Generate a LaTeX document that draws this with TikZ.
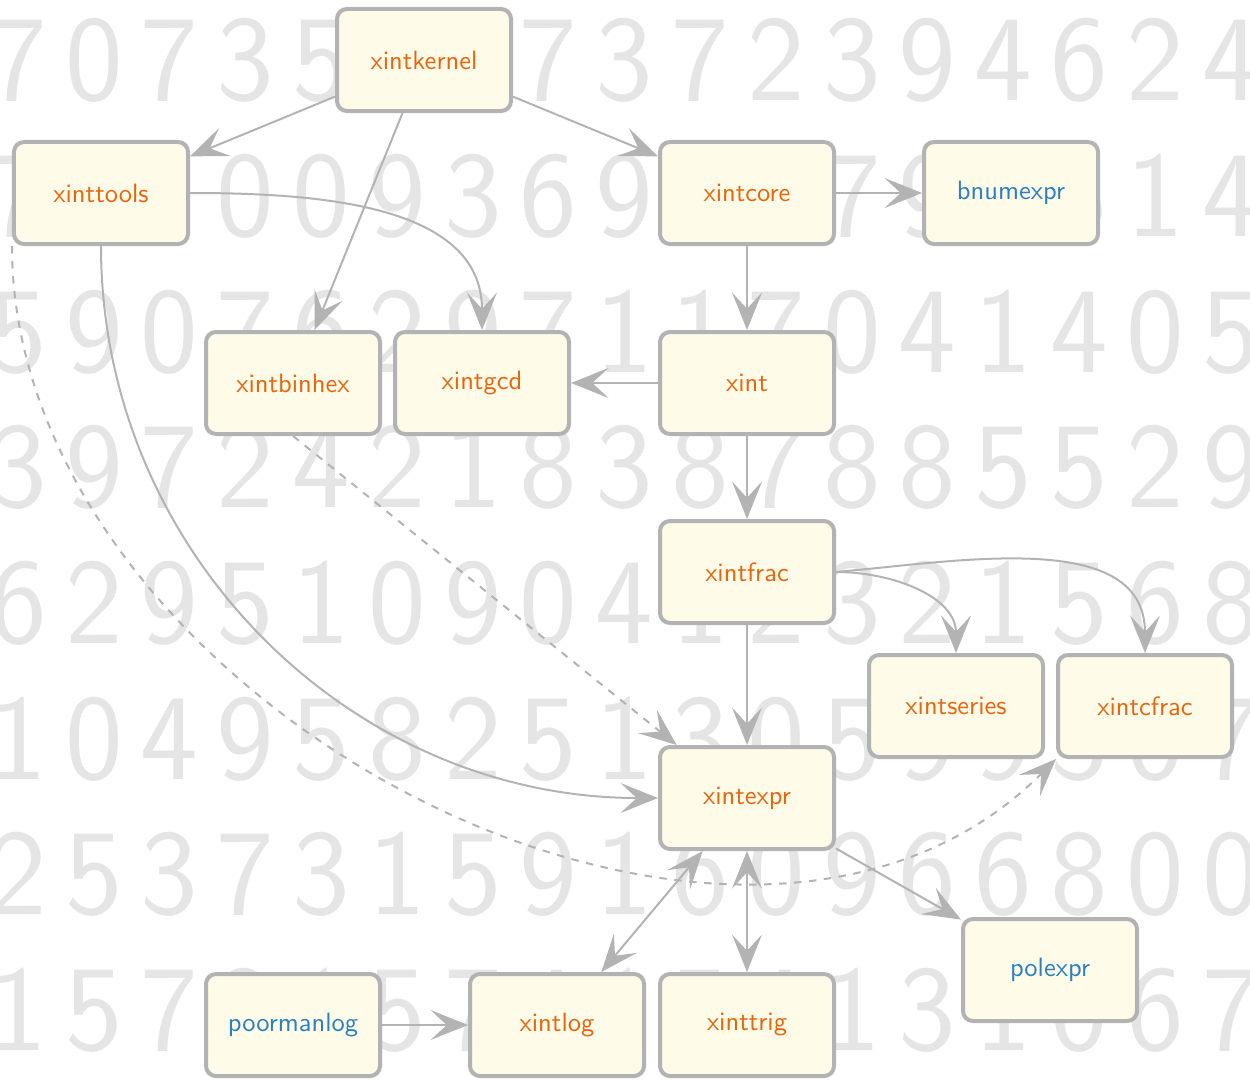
\documentclass[tikz,border=0pt]{standalone}
\usepackage{fontspec}
\usetikzlibrary{arrows.meta}
\definecolor{pkgfill}{RGB}{255,251,233}
\definecolor{pkgline}{RGB}{179,179,179}
\definecolor{pkgorange}{RGB}{232,101,12}
\definecolor{pkgblue}{RGB}{42,128,192}
\definecolor{digitgray}{RGB}{229,229,229}

\begin{document}
\begin{tikzpicture}[
    x=0.4pt, y=0.4pt,
    >={Stealth[length=15pt,width=12pt,inset=6.5pt]},
    pkg/.style={draw=pkgline,line width=1.6pt,fill=pkgfill,rounded corners=4pt,
      minimum width=69.6pt,minimum height=40.8pt,inner sep=0pt,
      font=\sffamily\fontsize{10.6}{12}\selectfont,text=pkgorange},
    ext/.style={pkg,text=pkgblue},
    dep/.style={->,line width=0.8pt,pkgline},
    both/.style={<->,line width=0.8pt,pkgline},
    digit/.style={anchor=base,inner sep=0pt,text=digitgray,
      font=\sffamily\fontsize{49}{50}\selectfont},
  ]
  \clip (0,0) rectangle (1250,-1079);

  % background digits
  \foreach \row [count=\r] in {
      {7,0,7,3,5,1,8,7,3,7,2,3,9,4,6,2,4},
      {7,4,1,0,0,9,3,6,9,4,1,7,9,8,5,1,4},
      {5,9,0,7,6,2,9,7,1,1,7,0,4,1,4,0,5},
      {3,9,7,2,4,2,1,8,3,8,7,8,8,5,5,2,9},
      {6,2,9,5,1,0,9,0,4,1,2,3,2,1,5,6,8},
      {1,0,4,9,5,8,2,5,1,3,0,5,9,9,3,0,7},
      {2,5,3,7,3,1,5,9,1,6,0,9,6,6,8,0,0},
      {1,5,7,2,1,5,7,4,1,5,4,1,3,1,0,6,7}} {
    \foreach \d [count=\k from 0] in \row {
      \node[digit] (d\r-\k) at ({18+75.8*\k},{-101-135.6*(\r-1)}) {\d};
    }
  }

  \node[pkg] (kernel) at (424,-60)   {xintkernel};
  \node[pkg] (tools)  at (101,-193)  {xinttools};
  \node[pkg] (core)   at (747,-193)  {xintcore};
  \node[ext] (bnum)   at (1011,-193) {bnumexpr};
  \node[pkg] (binhex) at (293,-383)  {xintbinhex};
  \node[pkg] (gcd)    at (482,-383)  {xintgcd};
  \node[pkg] (xint)   at (747,-383)  {xint};
  \node[pkg] (frac)   at (747,-572)  {xintfrac};
  \node[pkg] (series) at (956,-706)  {xintseries};
  \node[pkg] (cfrac)  at (1145,-706) {xintcfrac};
  \node[pkg] (expr)   at (747,-798)  {xintexpr};
  \node[ext] (pol)    at (1050,-970) {polexpr};
  \node[ext] (poor)   at (293,-1025) {poormanlog};
  \node[pkg] (log)    at (557,-1025) {xintlog};
  \node[pkg] (trig)   at (747,-1025) {xinttrig};

  \draw[dep] (kernel) -- (tools);
  \draw[dep] (kernel) -- (core);
  \draw[dep] (kernel) -- (binhex);
  \draw[dep] (tools.east) to[out=0,in=90] (gcd.north);
  \draw[dep] (tools.south) to[out=-90,in=180] (expr.west);
  \draw[dep,dashed] (tools.south west) to[out=-90,in=-135] (cfrac.south west);
  \draw[dep,dashed] (binhex.south) -- (expr.143);
  \draw[dep] (core) -- (bnum);
  \draw[dep] (core) -- (xint);
  \draw[dep] (xint) -- (gcd);
  \draw[dep] (xint) -- (frac);
  \draw[dep] (frac) -- (expr);
  \draw[dep] (frac.east) to[out=0,in=90] (series.north);
  \draw[dep] (frac.east) to[out=5,in=90] (cfrac.north);
  \draw[dep] (expr) -- (pol);
  \draw[both] (expr) -- (log);
  \draw[both] (expr) -- (trig);
  \draw[dep] (poor) -- (log);
\end{tikzpicture}
\end{document}
